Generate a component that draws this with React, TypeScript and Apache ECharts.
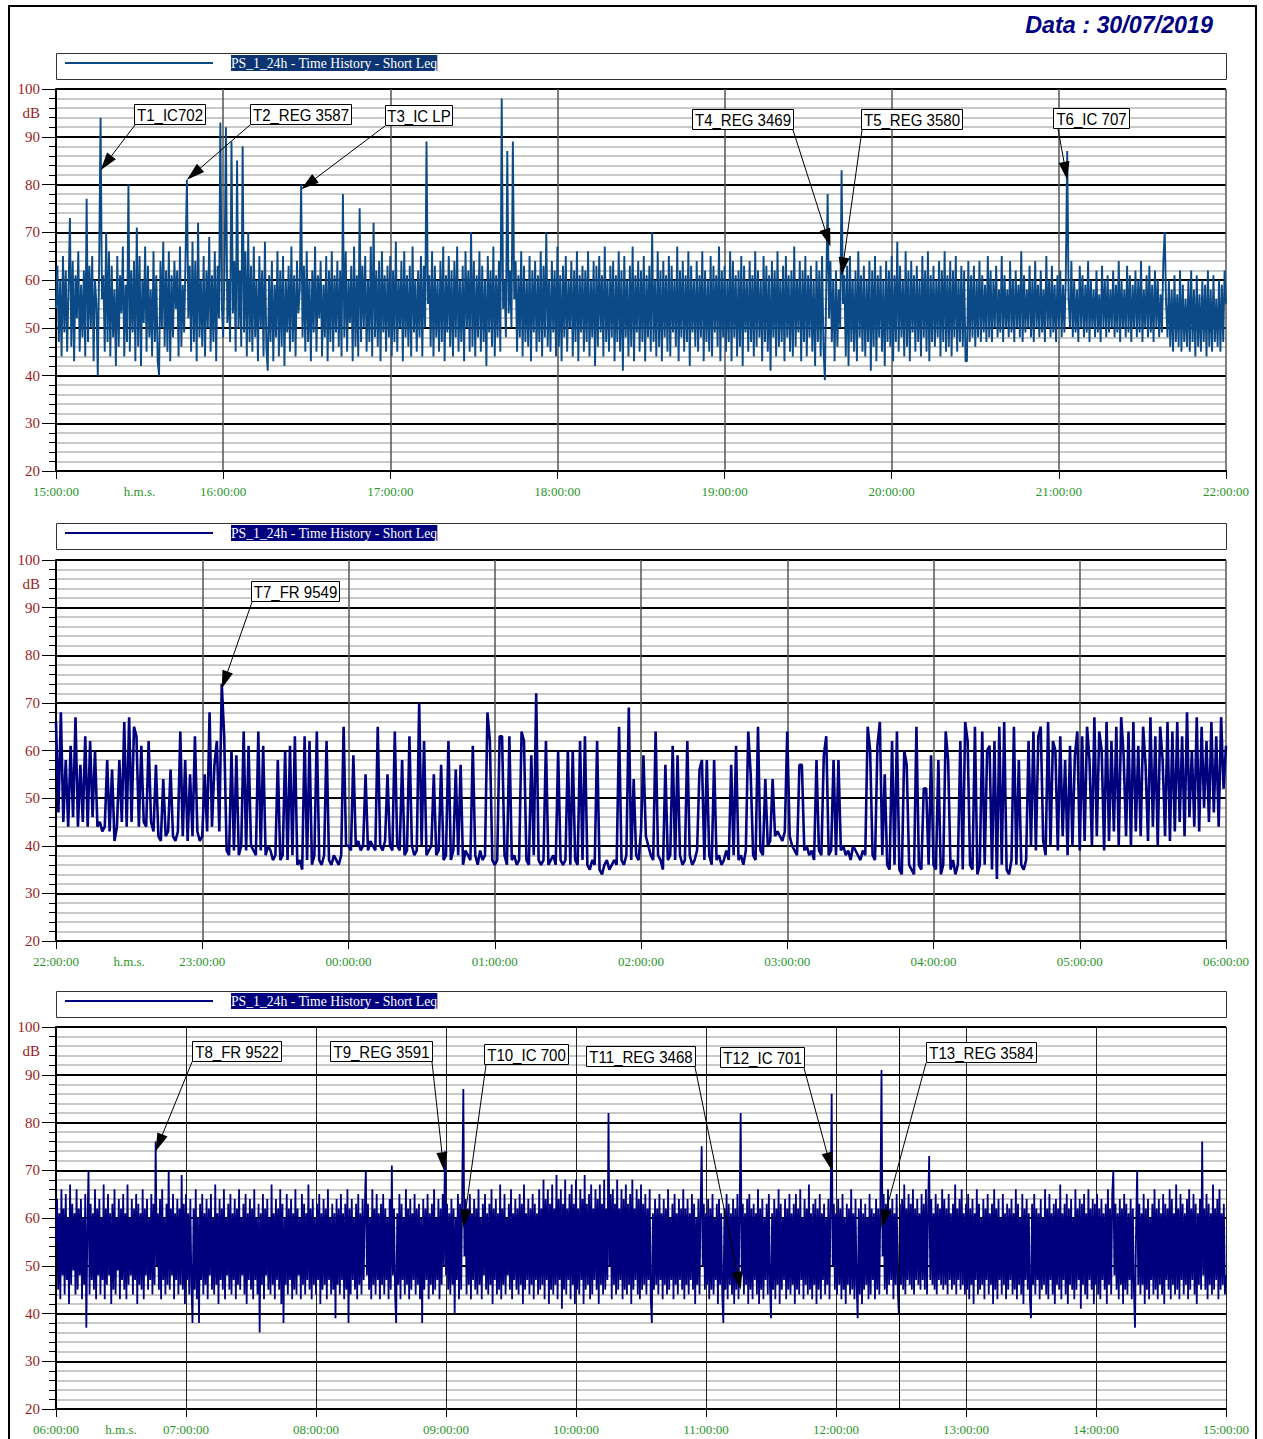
import React, { useEffect, useRef } from 'react';
import * as echarts from 'echarts';

// ---------------- DATA ----------------
const titleText = 'Data : 30/07/2019';
const legendText = 'PS_1_24h - Time History - Short Leq';
const panelStartHours = [15, 22, 6];
const panelMinutes = [420, 480, 540];
const sampleStepMinutes = [0.5, 1, 0.5];
const yMin = 20;
const yMax = 100;
const cursorMinutePanel3 = 389; // 12:29 marker line

// Short Leq, one value every 30 s, 15:00 -> 22:00
const leqPanel1 = [
  54,63,47,60,44,65,49,62,45,58,73,46,64,43,61,52,66,45,59,48,
  62,44,77,47,63,50,65,43,60,55,40,64,94,56,61,45,70,47,66,44,
  63,48,58,42,65,46,61,53,67,44,59,47,80,45,62,49,64,43,71,46,
  65,42,60,51,67,45,63,48,58,44,66,47,61,43,40,64,50,68,46,62,
  45,66,43,61,48,64,54,62,44,67,46,59,49,65,81,52,63,45,68,47,
  64,43,72,48,60,46,65,44,62,50,69,45,61,47,66,43,63,52,93,55,
  48,62,92,51,60,47,89,53,64,45,85,50,62,46,88,49,66,44,70,47,
  63,45,67,48,60,43,65,50,62,44,68,46,41,61,47,64,43,59,48,66,
  44,62,46,65,42,60,49,63,45,67,47,61,44,64,53,58,80,48,63,45,
  66,47,60,43,62,49,67,45,61,52,64,44,59,48,65,43,62,47,66,45,
  61,49,64,46,62,44,78,48,66,45,60,51,63,43,67,46,61,44,75,47,
  63,50,65,45,60,47,67,44,72,48,62,46,64,43,66,49,61,45,63,48,
  65,44,62,47,68,45,60,50,64,43,66,48,61,46,63,44,67,49,60,45,
  62,48,65,44,63,50,89,55,61,46,66,44,63,48,60,45,64,47,67,43,
  61,49,65,46,62,44,64,48,67,45,60,47,63,43,66,50,62,45,70,46,
  64,44,61,48,66,45,63,47,60,42,65,49,62,46,67,44,61,48,64,45,
  98,54,60,48,87,53,62,50,89,56,64,45,61,48,66,44,63,47,60,46,
  65,43,62,49,64,45,61,47,66,44,63,48,70,46,60,45,64,49,62,44,
  67,46,61,43,63,48,65,45,60,50,64,44,62,47,66,43,61,49,63,45,
  62,47,66,44,60,48,64,42,63,46,65,49,61,44,67,47,60,45,63,48,
  64,43,61,47,66,45,62,41,65,48,60,44,63,46,67,43,61,49,64,45,
  62,47,65,43,61,48,63,45,70,47,60,44,66,46,62,43,64,48,61,45,
  65,44,63,49,60,46,67,43,62,48,64,45,61,47,66,42,63,49,60,46,
  64,45,61,48,66,43,62,47,60,45,65,44,63,49,61,46,67,43,62,48,
  63,45,60,47,66,43,64,48,61,44,62,46,65,42,63,49,60,45,64,47,
  61,44,66,46,62,48,60,43,65,47,63,45,61,41,64,48,62,44,66,46,
  60,47,63,43,65,48,61,45,62,44,67,46,60,49,64,43,62,47,65,44,
  61,48,63,45,60,42,64,47,62,44,65,46,39,58,78,52,64,47,60,43,
  62,46,58,50,83,55,61,44,63,42,65,47,60,45,62,43,66,48,61,45,
  63,44,60,47,64,41,62,46,65,43,61,48,63,45,60,42,64,47,62,46,
  65,43,61,47,68,45,63,48,60,44,66,46,62,43,64,49,61,45,63,47,
  60,44,65,48,62,45,66,43,61,47,63,46,60,48,64,44,62,47,66,45,
  61,46,64,44,62,48,65,45,60,47,63,46,62,43,43,64,47,61,48,63,
  46,60,48,64,47,61,49,59,47,65,48,62,47,60,50,63,48,58,49,65,
  47,61,50,58,48,64,49,60,47,62,50,59,48,66,47,61,49,58,50,63,
  48,60,47,64,50,59,48,62,49,58,47,65,50,60,48,63,49,59,47,61,
  50,62,48,59,49,61,87,56,50,64,48,60,49,58,47,63,50,61,48,59,
  49,64,47,60,50,58,48,62,49,57,47,63,50,60,48,61,49,58,50,62,
  48,59,49,64,47,60,50,58,48,63,49,61,47,59,50,62,48,60,49,64,
  47,58,50,61,48,63,49,59,47,62,50,60,48,57,49,64,70,55,48,60,
  46,58,45,61,47,57,46,62,45,59,47,56,46,60,45,62,47,58,44,61,
  46,57,45,60,47,59,44,62,46,58,45,61,47,56,46,60,45,59,47,62,
  55,
];

// one value per minute, 22:00 -> 06:00
const leqPanel2 = [
  66,47,68,45,58,44,61,46,67,44,57,45,63,44,62,46,60,44,45,43,
  44,58,43,56,41,44,58,45,66,44,67,45,65,63,44,61,45,44,62,45,
  43,57,42,41,54,42,43,56,42,41,43,64,42,58,41,55,42,63,43,41,
  42,55,43,68,44,57,62,43,74,63,39,38,60,39,59,38,40,64,39,61,
  40,39,38,64,39,61,38,40,39,37,38,58,37,38,60,37,61,38,63,36,
  37,35,63,37,62,36,38,64,37,36,38,62,37,36,38,37,36,38,65,40,
  40,39,59,40,41,39,40,55,39,41,40,39,65,40,39,41,55,40,39,64,
  40,39,58,38,39,63,40,38,39,70,40,62,38,39,40,55,38,39,57,37,
  38,62,37,39,56,38,57,36,39,38,37,61,38,36,39,37,38,68,62,37,
  36,37,63,63,38,36,63,37,38,36,37,64,62,37,36,59,38,72,37,36,
  37,62,36,37,38,36,60,37,36,37,60,36,60,37,36,62,37,63,36,35,
  37,36,62,35,34,36,37,35,36,37,36,65,37,36,38,69,37,54,38,37,
  43,59,42,40,38,37,64,38,37,35,57,37,38,61,37,59,38,36,37,62,
  38,36,37,39,56,58,37,58,38,36,58,37,38,36,37,39,37,57,38,61,
  37,38,36,39,64,55,38,37,65,39,38,54,40,41,54,42,43,42,41,43,
  64,42,40,39,38,57,57,39,40,38,39,37,58,39,38,59,63,38,39,58,
  38,58,39,40,38,39,37,40,39,38,37,39,38,65,60,38,37,61,66,38,
  55,36,35,62,36,64,35,34,60,57,36,35,34,65,36,35,52,52,36,59,
  36,35,58,34,36,64,58,35,37,34,36,62,35,66,62,36,35,65,34,36,
  64,36,60,61,35,62,33,65,36,66,35,34,37,65,36,58,36,35,37,62,
  40,64,39,63,65,41,38,66,40,62,60,39,63,42,58,38,61,40,59,64,
  39,63,41,65,58,40,67,42,64,60,39,66,41,62,43,65,40,67,59,42,
  64,40,66,43,61,42,65,57,41,67,44,63,40,65,58,42,66,41,64,43,
  66,45,63,42,68,46,60,44,67,43,65,48,62,45,66,47,63,44,67,52,61,
];

// one value every 30 s, 06:00 -> 15:00
const leqPanel3 = [
  55,64,45,61,43,66,48,62,44,65,47,60,42,67,46,63,49,61,44,66,
  45,62,48,64,43,60,46,65,37,58,70,44,63,47,61,45,66,43,62,48,
  64,44,60,47,67,43,62,46,65,48,61,42,63,45,66,44,60,49,64,43,
  62,47,65,45,61,43,67,46,60,48,64,44,62,47,65,42,63,46,61,45,
  66,43,62,48,64,45,60,47,65,44,63,46,76,50,61,45,64,43,66,47,
  60,44,63,46,70,45,62,48,65,43,61,47,64,44,62,46,69,45,63,42,
  65,47,61,44,64,46,38,62,45,66,43,60,38,63,47,65,44,61,46,64,
  43,62,48,65,45,60,44,67,46,61,42,64,47,62,45,66,43,60,48,63,
  45,65,44,61,47,64,43,62,46,66,45,60,48,63,44,65,42,61,47,64,
  45,62,43,66,47,60,44,63,36,61,46,65,43,62,48,64,45,60,44,67,
  46,61,43,64,47,62,45,66,42,63,38,60,46,65,44,62,47,64,43,61,
  45,66,44,62,48,60,43,65,46,63,44,61,47,67,45,62,43,64,46,60,
  44,63,47,65,42,61,45,64,46,62,43,66,47,60,44,63,45,61,39,64,
  46,62,44,65,47,61,43,63,45,66,38,62,44,64,47,60,45,63,43,65,
  46,61,44,64,47,62,70,48,63,45,60,43,66,46,62,44,65,47,61,43,
  63,46,65,44,62,47,60,43,64,45,71,48,62,44,38,61,46,65,43,63,
  47,60,44,66,46,62,43,64,45,61,47,65,44,62,46,63,43,60,38,64,
  45,62,47,65,43,61,46,63,44,66,45,60,47,64,43,62,46,65,50,74,
  48,63,45,61,44,64,46,62,40,60,47,65,43,63,45,66,87,52,64,44,
  62,46,65,43,61,47,64,45,62,44,66,46,60,43,63,48,65,45,61,44,
  63,46,66,42,62,47,64,44,61,45,67,43,62,46,65,44,60,48,63,45,
  66,43,61,47,64,45,62,44,65,46,63,42,67,45,61,47,64,44,62,46,
  65,43,63,47,61,44,66,45,62,46,68,43,64,47,66,42,63,45,67,44,
  62,46,69,43,64,47,66,41,63,45,68,44,62,47,65,43,67,46,63,42,
  68,45,62,44,66,47,64,42,69,45,63,46,65,43,67,44,62,47,66,45,
  64,42,67,46,63,44,68,45,62,47,82,50,65,43,66,46,63,44,68,45,
  62,47,66,43,64,45,67,44,63,46,65,42,68,45,62,47,66,44,64,43,
  67,45,63,46,65,44,62,47,66,43,38,61,45,64,46,62,44,65,47,61,
  43,64,46,62,44,66,45,60,47,63,43,65,46,61,44,64,47,62,45,66,
  43,62,46,64,44,61,47,65,45,63,42,60,46,64,44,62,75,50,63,45,
  61,46,64,43,62,45,65,44,60,47,63,42,64,46,61,44,38,62,45,65,
  43,63,46,61,44,64,42,62,45,65,43,60,82,48,63,44,61,46,64,42,
  65,45,62,43,63,47,61,44,66,42,62,45,64,43,60,47,63,44,65,46,
  39,61,45,64,43,62,46,66,42,63,45,60,47,64,43,62,45,65,44,61,
  46,63,42,65,45,62,44,66,47,60,43,64,46,62,44,67,45,61,43,63,
  46,64,42,62,45,65,43,61,47,63,44,60,46,64,43,62,86,50,63,45,
  61,44,64,46,62,43,65,45,60,42,63,46,62,44,66,45,61,43,64,46,
  39,62,44,64,42,61,45,63,46,60,43,65,44,62,47,61,43,64,45,62,
  44,64,91,52,65,45,63,44,66,46,62,47,64,43,61,46,65,45,40,63,
  46,64,45,67,44,62,47,65,46,63,45,66,44,62,47,64,46,61,45,65,
  47,63,45,66,44,62,73,47,64,46,61,45,65,44,63,47,62,46,66,45,
  64,46,62,44,65,47,61,45,63,46,67,44,62,47,64,45,66,46,61,44,
  63,45,65,43,62,46,64,42,61,47,66,44,63,45,60,46,64,43,62,47,
  65,44,61,46,63,42,66,45,62,43,64,47,60,44,65,46,61,43,63,45,
  62,47,64,44,61,45,66,43,63,46,60,44,65,42,62,47,64,45,61,43,
  39,63,46,65,44,62,47,61,43,64,45,60,46,66,44,62,43,65,47,61,
  44,63,42,64,46,62,45,67,43,61,47,63,44,65,42,62,46,64,45,60,
  43,66,45,62,47,64,41,63,46,65,44,61,43,66,47,62,45,64,42,63,
  46,65,44,62,43,64,47,61,45,63,42,66,46,62,44,65,70,48,63,45,
  61,43,64,46,62,42,65,45,63,44,61,47,64,43,62,45,37,58,70,46,
  63,44,61,46,65,42,62,45,64,43,60,47,63,44,66,45,62,43,64,46,
  61,44,65,42,63,47,62,45,66,43,64,46,61,44,67,45,62,43,65,47,
  63,44,61,46,64,43,66,45,62,47,65,44,63,42,61,46,64,45,76,48,
  62,45,65,43,63,46,61,44,67,45,62,47,64,43,66,45,61,46,63,44,
  48,
];

const annotationLabels = [
  'T1_IC702', 'T2_REG 3587', 'T3_IC LP', 'T4_REG 3469', 'T5_REG 3580', 'T6_IC 707',
  'T7_FR 9549',
  'T8_FR 9522', 'T9_REG 3591', 'T10_IC 700', 'T11_REG 3468', 'T12_IC 701', 'T13_REG 3584',
];
const annotationPanels = [0, 0, 0, 0, 0, 0, 1, 2, 2, 2, 2, 2, 2];
const annotationMinutes = [16, 47, 88, 278, 282, 363, 68, 46, 179, 188, 316, 358, 381];
const annotationValues = [83, 81, 79, 67, 61, 81, 73, 74, 70, 58, 45, 70, 58];

// ---------------- LAYOUT / STYLE ----------------
const PAGE_W = 1263;
const PAGE_H = 1439;
const GRID_LEFT = 56;
const GRID_WIDTH = 1170;
const GRID_TOPS = [89, 560, 1027];
const GRID_HEIGHTS = [382, 381, 382];
const LEGEND_TOPS = [53, 523, 991];
const SERIES_COLORS = ['#0b4a86', '#00007f', '#00007f'];
const SERIES_WIDTHS = [1.9, 2.6, 1.8];
const HILITE_COLORS = ['#0c3572', '#00007f', '#00007f'];
const VGRID_COLORS = ['#555555', '#555555', '#222222'];
const Y_LABEL_COLOR = '#9b1c1c';
const X_LABEL_COLOR = '#2a962a';
const SERIF = '"Liberation Serif", "Times New Roman", serif';
const SANS = '"Liberation Sans", Arial, sans-serif';
// [left, top, width, arrow-start offset from left]
const annotationBoxes = [
  [134, 104, 71, 1], [250, 104, 101, 0], [385, 105, 67, 0], [692, 109, 101, 101],
  [861, 109, 101, 1], [1053, 108, 76, 5],
  [251, 581, 88, 1],
  [192, 1041, 89, 0], [330, 1041, 102, 102], [484, 1044, 84, 2], [586, 1046, 109, 109],
  [720, 1047, 84, 84], [926, 1042, 110, 0],
];
const BOX_H = 20;

const leqPanels = [leqPanel1, leqPanel2, leqPanel3];

function hourLabel(p: number, v: number) {
  const h = (panelStartHours[p] + Math.round(v / 60)) % 24;
  return `${String(h).padStart(2, '0')}:00:00`;
}

function buildOption() {
  const grid: any[] = [];
  const xAxis: any[] = [];
  const yAxis: any[] = [];
  const series: any[] = [];
  for (let p = 0; p < 3; p++) {
    grid.push({ left: GRID_LEFT, top: GRID_TOPS[p], width: GRID_WIDTH, height: GRID_HEIGHTS[p], containLabel: false });
    xAxis.push({
      type: 'value', gridIndex: p, min: 0, max: panelMinutes[p], interval: 60, position: 'bottom',
      axisLine: { show: true, onZero: false, lineStyle: { color: '#000', width: 2 } },
      axisTick: { show: true, length: 8, lineStyle: { color: '#000', width: 1 } },
      axisLabel: { show: true, margin: 14, color: X_LABEL_COLOR, fontFamily: SERIF, fontSize: 13, formatter: (v: number) => hourLabel(p, v) },
      splitLine: { show: true, lineStyle: { color: VGRID_COLORS[p], width: p === 2 ? 1 : 1.5 } },
    });
    xAxis.push({
      type: 'value', gridIndex: p, min: 0, max: panelMinutes[p], interval: 30, position: 'bottom',
      axisLine: { show: false }, axisTick: { show: false }, splitLine: { show: false },
      axisLabel: { show: true, margin: 14, color: X_LABEL_COLOR, fontFamily: SERIF, fontSize: 13, formatter: (v: number) => (v === 30 ? 'h.m.s.' : '') },
    });
    yAxis.push({
      type: 'value', gridIndex: p, min: yMin, max: yMax, interval: 10, position: 'left',
      axisLine: { show: true, onZero: false, lineStyle: { color: '#000', width: 2 } },
      axisTick: { show: true, length: 14, lineStyle: { color: '#000', width: 1 } },
      minorTick: { show: true, splitNumber: 5, length: 7, lineStyle: { color: '#000', width: 1 } },
      axisLabel: { show: true, margin: 16, color: Y_LABEL_COLOR, fontFamily: SERIF, fontSize: 15 },
      splitLine: { show: true, lineStyle: { color: '#000', width: 2 } },
      minorSplitLine: { show: true, lineStyle: { color: '#c9c9c9', width: 2 } },
    });
    yAxis.push({
      type: 'value', gridIndex: p, min: yMin, max: yMax, interval: 5, position: 'left',
      axisLine: { show: false }, axisTick: { show: false }, splitLine: { show: false },
      axisLabel: { show: true, margin: 16, color: Y_LABEL_COLOR, fontFamily: SERIF, fontSize: 15, formatter: (v: number) => (v === 95 ? 'dB' : '') },
    });
    const step = sampleStepMinutes[p];
    const s: any = {
      type: 'line', xAxisIndex: 2 * p, yAxisIndex: 2 * p,
      data: leqPanels[p].map((v, i) => [i * step, v]),
      showSymbol: false, symbol: 'none', silent: true,
      lineStyle: { color: SERIES_COLORS[p], width: SERIES_WIDTHS[p], join: 'bevel' },
      itemStyle: { color: SERIES_COLORS[p] },
      z: 3,
    };
    if (p === 2) {
      s.markLine = {
        silent: true, symbol: 'none', label: { show: false },
        lineStyle: { color: '#000', width: 1, type: 'solid' },
        data: [{ xAxis: cursorMinutePanel3 }],
      };
    }
    series.push(s);
  }
  return { animation: false, backgroundColor: '#fff', grid, xAxis, yAxis, series };
}

function arrowElems(sx: number, sy: number, tx: number, ty: number) {
  const dx = sx - tx;
  const dy = sy - ty;
  const len = Math.hypot(dx, dy) || 1;
  const ux = dx / len;
  const uy = dy / len;
  const nx = -uy;
  const ny = ux;
  const L = 18;
  const hw = 5.5;
  return [
    { type: 'line', z: 100, silent: true, shape: { x1: sx, y1: sy, x2: tx + ux * L * 0.6, y2: ty + uy * L * 0.6 }, style: { stroke: '#000', lineWidth: 1 } },
    {
      type: 'polygon', z: 101, silent: true,
      shape: { points: [[tx, ty], [tx + ux * L + nx * hw, ty + uy * L + ny * hw], [tx + ux * L - nx * hw, ty + uy * L - ny * hw]] },
      style: { fill: '#000' },
    },
  ];
}

function buildGraphics(chart: any) {
  const g: any[] = [];
  g.push({ type: 'rect', z: 100, silent: true, shape: { x: 9, y: 6, width: 1247, height: 1460 }, style: { fill: 'none', stroke: '#000', lineWidth: 2 } });
  g.push({
    type: 'text', z: 100, x: 1213, y: 25, silent: true,
    style: { text: titleText, fill: '#000080', font: `italic bold 23.3px ${SANS}`, align: 'right', verticalAlign: 'middle', textAlign: 'right', textVerticalAlign: 'middle' },
  });
  for (let p = 0; p < 3; p++) {
    const ly = LEGEND_TOPS[p];
    g.push({ type: 'rect', z: 100, silent: true, shape: { x: GRID_LEFT + 0.5, y: ly + 0.5, width: GRID_WIDTH, height: 26 }, style: { fill: '#fff', stroke: '#333', lineWidth: 1 } });
    g.push({ type: 'line', z: 101, silent: true, shape: { x1: 65, y1: ly + 10, x2: 213, y2: ly + 10 }, style: { stroke: SERIES_COLORS[p], lineWidth: 2 } });
    g.push({
      type: 'text', z: 101, silent: true, x: 231, y: ly + 10,
      style: { text: legendText, fill: '#fff', backgroundColor: HILITE_COLORS[p], padding: [1, 0, 1, 0], font: `13.7px ${SERIF}`, verticalAlign: 'middle', textVerticalAlign: 'middle', align: 'left', textAlign: 'left' },
    });
  }
  for (let i = 0; i < annotationLabels.length; i++) {
    const p = annotationPanels[i];
    const [bx, by, bw, adx] = annotationBoxes[i];
    const tip = chart.convertToPixel({ xAxisIndex: 2 * p, yAxisIndex: 2 * p }, [annotationMinutes[i], annotationValues[i]]);
    g.push(...arrowElems(bx + adx, by + BOX_H + 1, tip[0], tip[1]));
    g.push({ type: 'rect', z: 102, silent: true, shape: { x: bx + 0.5, y: by + 0.5, width: bw, height: BOX_H }, style: { fill: '#fff', stroke: '#000', lineWidth: 1 } });
    g.push({
      type: 'text', z: 103, silent: true, x: bx + bw / 2 + 0.5, y: by + BOX_H / 2 + 1, scaleX: 0.94,
      style: { text: annotationLabels[i], fill: '#000', font: `16px ${SANS}`, align: 'center', verticalAlign: 'middle', textAlign: 'center', textVerticalAlign: 'middle' },
    });
  }
  return g;
}

export default function App() {
  const ref = useRef<HTMLDivElement>(null);
  useEffect(() => {
    if (!ref.current) return;
    const chart = echarts.init(ref.current, null, { renderer: 'svg' });
    chart.setOption(buildOption());
    chart.setOption({ graphic: { elements: buildGraphics(chart) } });
    return () => chart.dispose();
  }, []);
  return (
    <div
      ref={ref}
      style={{ position: 'absolute', left: 0, top: 0, width: PAGE_W, height: PAGE_H, background: '#fff' }}
    />
  );
}
